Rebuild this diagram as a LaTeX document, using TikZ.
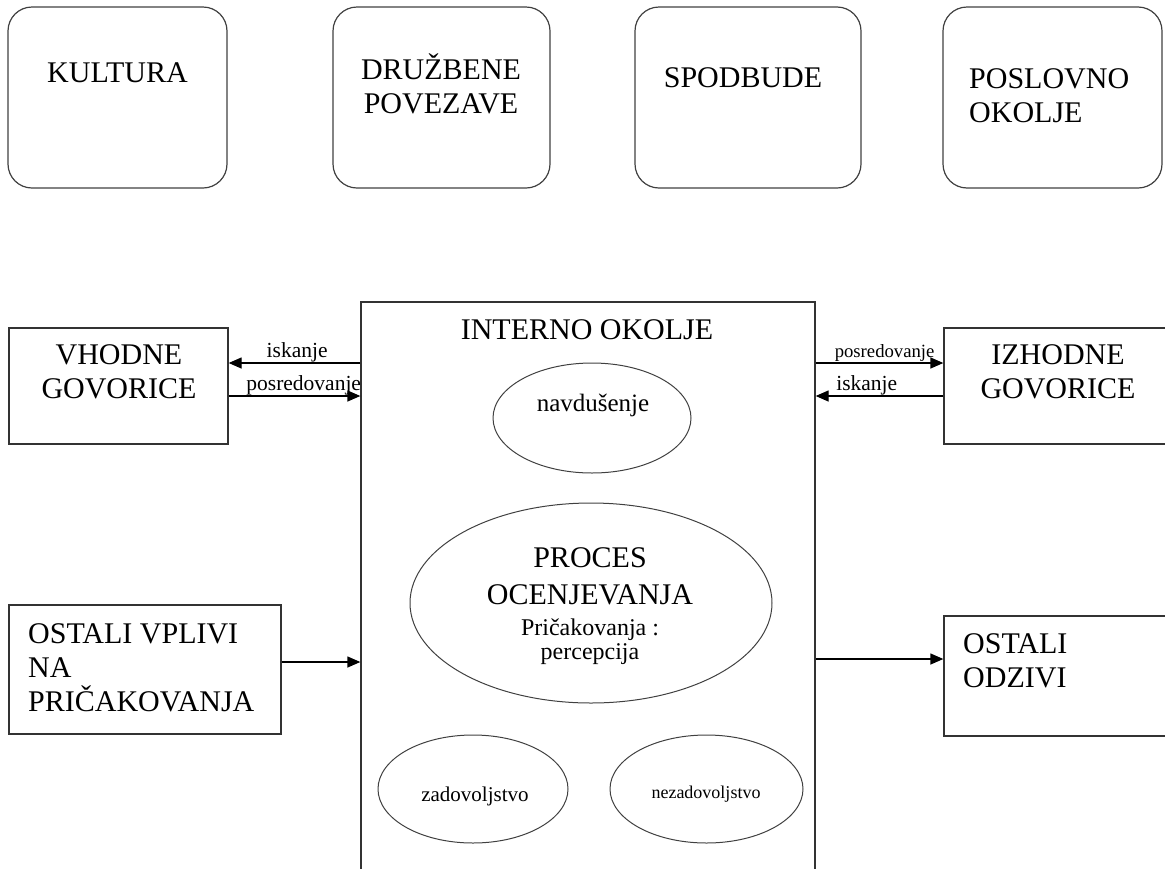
\documentclass[tikz,border=0pt]{standalone}
\usepackage{fontspec}
\setmainfont{Liberation Serif}
\usetikzlibrary{arrows.meta,shapes.geometric}

\begin{document}
\begin{tikzpicture}[x=1pt,y=-1pt,
    zgoraj/.style={draw=black!75,line width=1.2pt,rounded corners=24pt,minimum height=181pt,inner sep=0pt},
    skatla/.style={draw=black!80,line width=1.3pt,inner sep=0pt},
    elipsa/.style={ellipse,draw=black!75,line width=1pt,inner sep=0pt},
    napis/.style={font=\fontsize{30}{34}\selectfont,inner sep=0pt,anchor=base,align=center},
    levo/.style={napis,anchor=base west,align=left},
    puscica/.style={line width=1.3pt,-{Triangle[length=13pt,width=11pt]}},
    oznaka/.style={font=\fontsize{21.5}{24}\selectfont,inner sep=0pt,anchor=base,yshift=6pt}]
  \useasboundingbox (0,0) rectangle (1165,868);

  % zunanji dejavniki
  \node[zgoraj,minimum width=219pt] (kultura)  at (117.5,97.5) {};
  \node[zgoraj,minimum width=217pt] (druzbene) at (441.5,97.5) {};
  \node[zgoraj,minimum width=226pt] (spodbude) at (748,97.5) {};
  \node[zgoraj,minimum width=219pt] (poslovno) at (1052.5,97.5) {};

  % pri vec vrsticah je base zadnja vrstica
  \node[napis] (tkultura)  at (117.5,82) {KULTURA};
  \node[napis] (tdruzbene) at (441,113) {DRUŽBENE\\POVEZAVE};
  \node[napis] (tspodbude) at (743,87) {SPODBUDE};
  \node[levo]  (tposlovno) at (969,122) {POSLOVNO\\OKOLJE};

  % okolje in okvirji
  \node[skatla,minimum width=454pt,minimum height=588pt] (interno) at (588,596) {};
  \node[skatla,minimum width=219pt,minimum height=116pt] (vhodne)  at (118.5,386) {};
  \node[skatla,minimum width=228pt,minimum height=116pt] (izhodne) at (1058,386) {};
  \node[skatla,minimum width=272pt,minimum height=129pt] (vplivi)  at (145,669.5) {};
  \node[skatla,minimum width=228pt,minimum height=120pt] (odzivi)  at (1058,676) {};

  \node[napis] (tinterno) at (587,339) {INTERNO OKOLJE};
  \node[napis] (tvhodne)  at (119,398) {VHODNE\\GOVORICE};
  \node[napis] (tizhodne) at (1058,398) {IZHODNE\\GOVORICE};
  \node[levo]  (tvplivi)  at (28,711) {OSTALI VPLIVI\\NA\\PRIČAKOVANJA};
  \node[levo]  (todzivi)  at (963,687) {OSTALI\\ODZIVI};

  % elipse
  \node[elipsa,minimum width=198pt,minimum height=110pt] (navdusenje) at (592,418) {};
  \node[elipsa,minimum width=362pt,minimum height=200pt] (proces)     at (591,603) {};
  \node[elipsa,minimum width=190pt,minimum height=108pt] (zadov)      at (473,789) {};
  \node[elipsa,minimum width=193pt,minimum height=108pt] (nezadov)    at (706.5,789) {};

  \node[napis,font=\fontsize{25}{28}\selectfont] (tnavdusenje) at (593,411) {navdušenje};
  \node[napis,font=\fontsize{30}{37}\selectfont] (tproces) at (590,604) {PROCES\\OCENJEVANJA};
  \node[napis,font=\fontsize{24}{24}\selectfont] (tprica)  at (590,659) {Pričakovanja :\\percepcija};
  \node[napis,font=\fontsize{21}{24}\selectfont] (tzadov)  at (475,801) {zadovoljstvo};
  \node[napis,font=\fontsize{18}{20}\selectfont] (tnezadov) at (706,798) {nezadovoljstvo};

  % puscice
  \draw[puscica] ([yshift=23pt]vhodne.east -| interno.west) -- node[oznaka,pos=0.48] {iskanje} ([yshift=23pt]vhodne.east);
  \draw[puscica] ([yshift=-10pt]vhodne.east) -- node[oznaka,pos=0.57] {posredovanje} ([yshift=-10pt]vhodne.east -| interno.west);
  \draw[puscica] ([yshift=23pt]izhodne.west -| interno.east) -- node[oznaka,pos=0.54,font=\fontsize{18.7}{20}\selectfont] {posredovanje} ([yshift=23pt]izhodne.west);
  \draw[puscica] ([yshift=-10pt]izhodne.west) -- node[oznaka,pos=0.60] {iskanje} ([yshift=-10pt]izhodne.west -| interno.east);
  \draw[puscica] ([yshift=7.5pt]vplivi.east) -- ([yshift=7.5pt]vplivi.east -| interno.west);
  \draw[puscica] ([yshift=17pt]odzivi.west -| interno.east) -- ([yshift=17pt]odzivi.west);
\end{tikzpicture}
\end{document}
